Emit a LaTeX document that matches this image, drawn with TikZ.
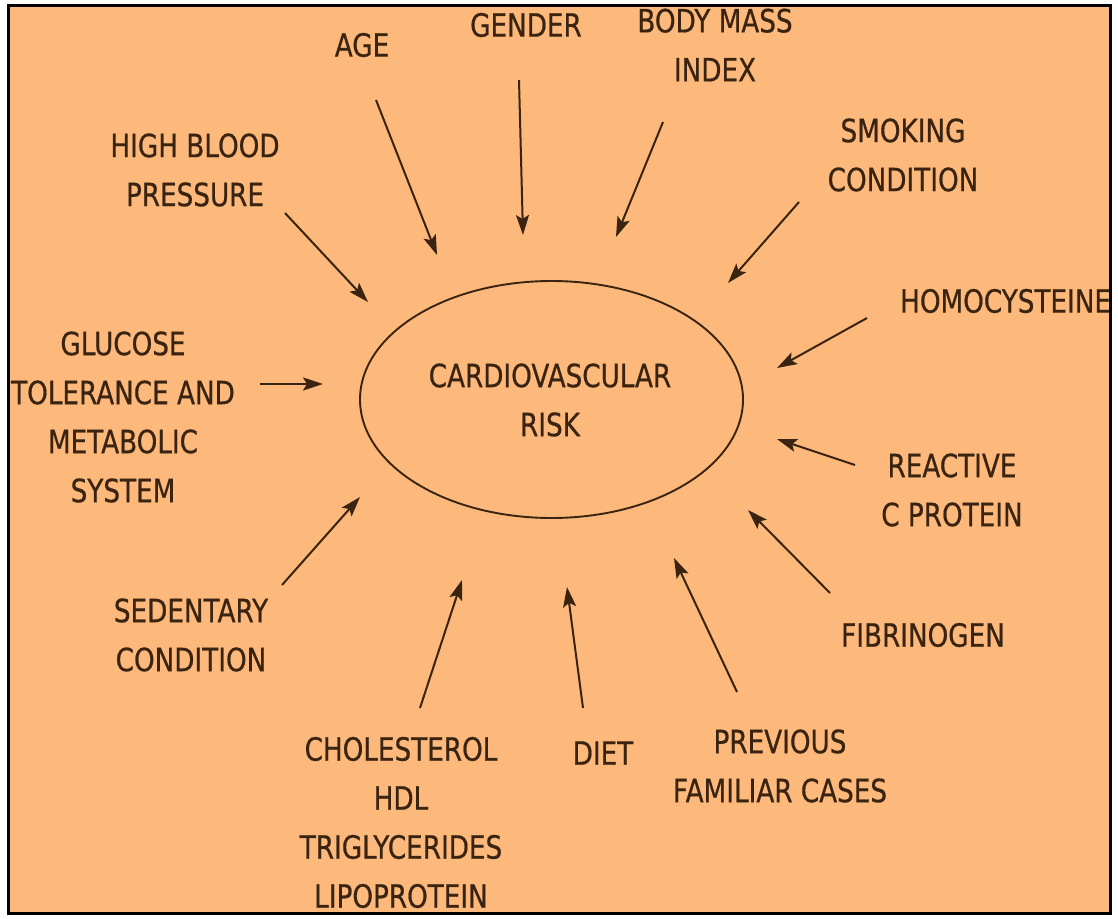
\documentclass[tikz,border=0pt]{standalone}
\usepackage{fontspec}
\setmainfont{DejaVu Sans}[FakeStretch=0.82,FakeBold=0.6]
\usetikzlibrary{arrows.meta}
\definecolor{bg}{HTML}{FCB97B}
\definecolor{ink}{HTML}{3A2411}
\begin{document}
\begin{tikzpicture}[x=1pt,y=-1pt,
  lbl/.style={anchor=center, inner sep=0pt, align=center, text=ink, font=\fontsize{32}{49}\selectfont},
  arr/.style={draw=ink, line width=2pt, -{Stealth[length=20pt,width=13pt,inset=4pt]}}
]
\useasboundingbox (0,0) rectangle (1118,918);
\fill[white] (0,0) rectangle (1118,918);
\fill[bg] (8,5) rectangle (1110,913);
\begin{scope}
\clip (8,5) rectangle (1110,913);
% centre
\draw[draw=ink, line width=1.9pt] (551.5,399.5) ellipse [x radius=191.5, y radius=118.5];
\node[lbl] (risk) at (550,400) {CARDIOVASCULAR\\RISK};
% labels
\node[lbl] (age) at (362,45) {AGE};
\node[lbl] (gender) at (526,25) {GENDER};
\node[lbl] (bmi) at (715,45) {BODY MASS\\INDEX};
\node[lbl] (smoke) at (903,155) {SMOKING\\CONDITION};
\node[lbl, anchor=west] (homo) at (900,301) {HOMOCYSTEINE};
\node[lbl] (crp) at (952,490) {REACTIVE\\C PROTEIN};
\node[lbl] (fib) at (923,635) {FIBRINOGEN};
\node[lbl] (prev) at (780,766) {PREVIOUS\\FAMILIAR CASES};
\node[lbl] (diet) at (603,753) {DIET};
\node[lbl] (chol) at (401,822.5) {CHOLESTEROL\\HDL\\TRIGLYCERIDES\\LIPOPROTEIN};
\node[lbl] (sed) at (191,635) {SEDENTARY\\CONDITION};
\node[lbl] (gluc) at (123,417) {GLUCOSE\\TOLERANCE AND\\METABOLIC\\SYSTEM};
\node[lbl] (hbp) at (195,170) {HIGH BLOOD\\PRESSURE};
% arrow end points
\coordinate (ageS) at (376,100);   \coordinate (ageT) at (437,255);
\coordinate (genS) at (519,80);    \coordinate (genT) at (523,235);
\coordinate (bmiS) at (663,122);   \coordinate (bmiT) at (616,237);
\coordinate (smoS) at (799,202);   \coordinate (smoT) at (728,283);
\coordinate (homS) at (867,318);   \coordinate (homT) at (777,368);
\coordinate (crpS) at (855,465);   \coordinate (crpT) at (777,439);
\coordinate (fibS) at (830,593);   \coordinate (fibT) at (748,510);
\coordinate (preS) at (737,692);   \coordinate (preT) at (674,558);
\coordinate (dieS) at (583,708);   \coordinate (dieT) at (567,587);
\coordinate (choS) at (420,708);   \coordinate (choT) at (462,580);
\coordinate (sedS) at (282,585);   \coordinate (sedT) at (360,497);
\coordinate (gluS) at (260,384);   \coordinate (gluT) at (323,384);
\coordinate (hbpS) at (285,213);   \coordinate (hbpT) at (368,302);
\draw[arr] (ageS) -- (ageT);
\draw[arr] (genS) -- (genT);
\draw[arr] (bmiS) -- (bmiT);
\draw[arr] (smoS) -- (smoT);
\draw[arr] (homS) -- (homT);
\draw[arr] (crpS) -- (crpT);
\draw[arr] (fibS) -- (fibT);
\draw[arr] (preS) -- (preT);
\draw[arr] (dieS) -- (dieT);
\draw[arr] (choS) -- (choT);
\draw[arr] (sedS) -- (sedT);
\draw[arr] (gluS) -- (gluT);
\draw[arr] (hbpS) -- (hbpT);
\end{scope}
\draw[black, line width=3pt] (8,5) rectangle (1110,913);
\end{tikzpicture}
\end{document}
